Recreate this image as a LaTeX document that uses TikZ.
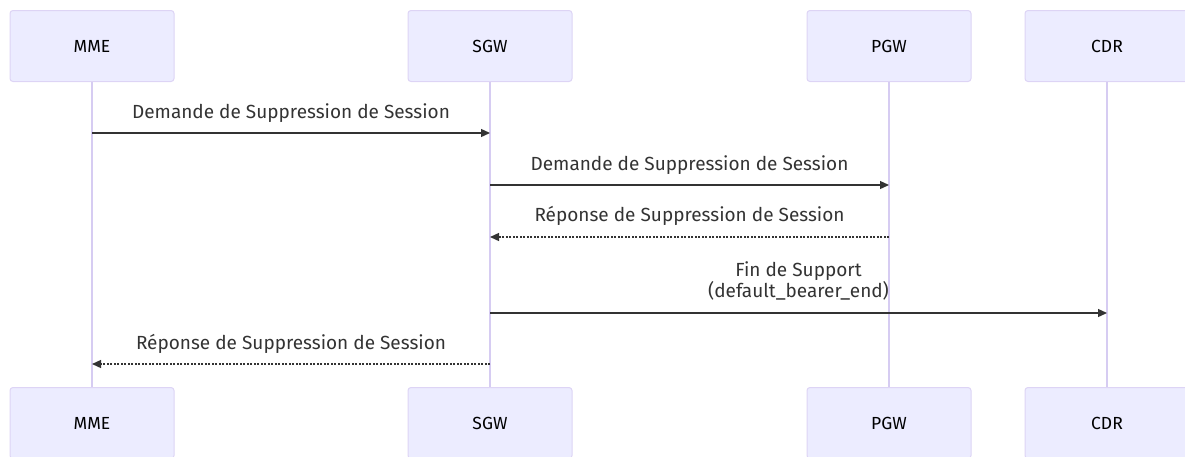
\documentclass[tikz,border=0pt]{standalone}
\usepackage{fontspec}
\setmainfont{Fira Sans}
\usetikzlibrary{arrows.meta}
\definecolor{actorfill}{HTML}{ECECFF}
\definecolor{actorline}{HTML}{DDD4F5}
\definecolor{lifeline}{HTML}{D6CCF2}
\definecolor{msgcol}{HTML}{333333}
\begin{document}
\begin{tikzpicture}[x=1pt,y=-1pt,
  actor/.style={draw=actorline, line width=1pt, fill=actorfill, rounded corners=3pt,
    minimum width=164pt, minimum height=71pt, inner sep=0pt, anchor=north,
    font=\fontsize{17.5}{20}\selectfont, text=black},
  life/.style={draw=lifeline, line width=1.3pt},
  msg/.style={draw=msgcol, line width=1.3pt, -{Triangle[length=9pt,width=8pt]}},
  reply/.style={msg, dash pattern=on 2pt off 1.5pt},
  lbl/.style={font=\fontsize{19}{21}\selectfont, text=msgcol, align=center, inner sep=0pt}]
\useasboundingbox (0,0) rectangle (1185,456);
% actor boxes, top and bottom
\foreach \n/\x in {MME/92,SGW/490,PGW/889,CDR/1107}{
  \node[actor] (\n top) at (\x,10) {\n};
  \node[actor] (\n bot) at (\x,387) {\n};
  \draw[life] (\n top.south) -- (\n bot.north);
}
% message anchors on the lifelines
\coordinate (m1a) at (MMEtop.south |- 0,133); \coordinate (m1b) at (SGWtop.south |- 0,133);
\coordinate (m2a) at (SGWtop.south |- 0,185); \coordinate (m2b) at (PGWtop.south |- 0,185);
\coordinate (m3a) at (PGWtop.south |- 0,237); \coordinate (m3b) at (SGWtop.south |- 0,237);
\coordinate (m4a) at (SGWtop.south |- 0,313); \coordinate (m4b) at (CDRtop.south |- 0,313);
\coordinate (m5a) at (SGWtop.south |- 0,364); \coordinate (m5b) at (MMEtop.south |- 0,364);
% messages
\draw[msg] (m1a) -- (m1b) node[lbl, midway, yshift=20pt] (l1) {Demande de Suppression de Session};
\draw[msg] (m2a) -- (m2b) node[lbl, midway, yshift=20pt] (l2) {Demande de Suppression de Session};
\draw[reply] (m3a) -- (m3b) node[lbl, midway, yshift=21pt] (l3) {Réponse de Suppression de Session};
\draw[msg] (m4a) -- (m4b) node[lbl, midway, yshift=32pt] (l4) {Fin de Support\\(default\_bearer\_end)};
\draw[reply] (m5a) -- (m5b) node[lbl, midway, yshift=20pt] (l5) {Réponse de Suppression de Session};
\end{tikzpicture}
\end{document}
